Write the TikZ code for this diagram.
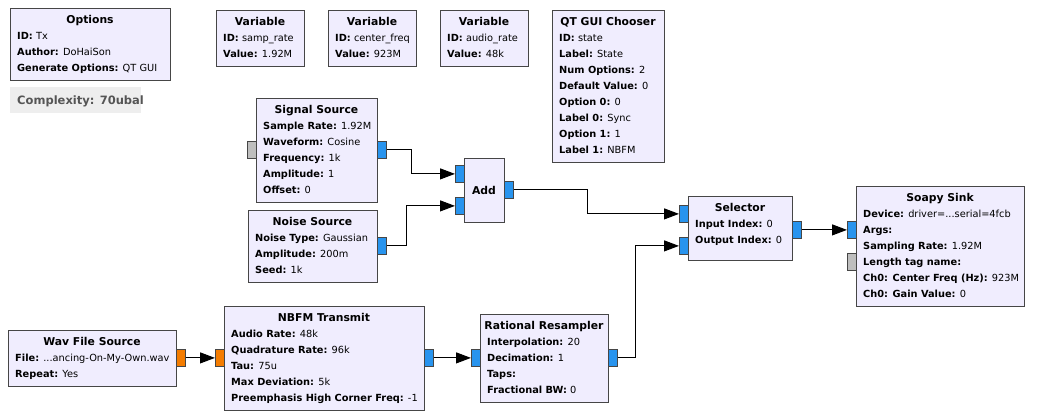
\documentclass[tikz,border=0pt]{standalone}
\usepackage{fontspec}
\setmainfont{DejaVu Sans}
\usetikzlibrary{arrows.meta}
\definecolor{blkfill}{RGB}{240,237,254}
\definecolor{blkdraw}{RGB}{70,70,70}
\definecolor{portblue}{RGB}{40,148,238}
\definecolor{portorange}{RGB}{244,124,0}
\definecolor{portgray}{RGB}{190,190,190}
\definecolor{cplxfill}{RGB}{238,238,238}
\definecolor{cplxtext}{RGB}{85,85,85}
\tikzset{
  blk/.style={draw=blkdraw, fill=blkfill, line width=0.9pt, inner sep=0pt, anchor=north west},
  blktitle/.style={inner sep=0pt, anchor=base, font=\fontsize{10.8}{12}\selectfont\bfseries},
  blkline/.style={inner sep=0pt, anchor=base west, font=\fontsize{9.8}{12}\selectfont},
  prt/.style={draw=blkdraw, line width=0.8pt, inner sep=0pt, minimum width=9pt, minimum height=17pt, anchor=north west},
  conn/.style={draw=black, line width=1pt, -{Triangle[length=15pt,width=11pt]}},
}
\newcommand{\grdots}{.{}.{}.}
\newcommand{\grblock}[7]{%
  \node[blk, minimum width=#4pt, minimum height=#5pt] (#1) at (#2,#3) {};
  \node[blktitle] (#1-t) at ({#2+#4/2},{#3+15}) {#6};
  \foreach \ln [count=\i] in {#7} {
    \node[blkline] (#1-l\i) at ({#2+7},{#3+31+16*(\i-1)}) {\ln};
  }
}
\newcommand{\grport}[4]{%
  \node[prt, fill=#4] (#1) at (#2,#3) {};
}
\begin{document}
\begin{tikzpicture}[x=1pt,y=-1pt]
\useasboundingbox[fill=white] (0,0) rectangle (1039,418);

\grblock{opt}{10}{8}{160}{72}{Options}{{\textbf{ID:} Tx},{\textbf{Author:} DoHaiSon},{\textbf{Generate Options:} QT GUI}}
\node[fill=cplxfill, minimum width=131pt, minimum height=26pt, anchor=north west, inner sep=0pt] (cplx) at (10,87) {};
\node[anchor=base west, inner sep=0pt, text=cplxtext, font=\fontsize{11.5}{14}\selectfont\bfseries] (cplx-t) at (17,104.5) {Complexity: 70ubal};

\grblock{v1}{216}{10}{88}{56}{Variable}{{\textbf{ID:} samp\_rate},{\textbf{Value:} 1.92M}}
\grblock{v2}{328}{10}{88}{56}{Variable}{{\textbf{ID:} center\_freq},{\textbf{Value:} 923M}}
\grblock{v3}{440}{10}{88}{56}{Variable}{{\textbf{ID:} audio\_rate},{\textbf{Value:} 48k}}
\grblock{ch}{552}{10}{112}{152}{QT GUI Chooser}{{\textbf{ID:} state},{\textbf{Label:} State},{\textbf{Num Options:} 2},{\textbf{Default Value:} 0},{\textbf{Option 0:} 0},{\textbf{Label 0:} Sync},{\textbf{Option 1:} 1},{\textbf{Label 1:} NBFM}}

\grblock{ss}{256}{98}{121}{104}{Signal Source}{{\textbf{Sample Rate:} 1.92M},{\textbf{Waveform:} Cosine},{\textbf{Frequency:} 1k},{\textbf{Amplitude:} 1},{\textbf{Offset:} 0}}
\grport{ss-m}{247}{141}{portgray}
\grport{ss-o}{377}{141}{portblue}

\grblock{ns}{248}{210}{129}{72}{Noise Source}{{\textbf{Noise Type:} Gaussian},{\textbf{Amplitude:} 200m},{\textbf{Seed:} 1k}}
\grport{ns-o}{377}{237}{portblue}

\node[blk, minimum width=40pt, minimum height=64pt] (add) at (464,158) {};
\node[blktitle] (add-t) at (484,194) {Add};
\grport{add-i1}{455}{165}{portblue}
\grport{add-i2}{455}{197}{portblue}
\grport{add-o}{504}{181}{portblue}

\grblock{sel}{688}{196}{104}{64}{Selector}{{\textbf{Input Index:} 0},{\textbf{Output Index:} 0}}
\grport{sel-i1}{679}{205}{portblue}
\grport{sel-i2}{679}{237}{portblue}
\grport{sel-o}{792}{221}{portblue}

\grblock{ssk}{856}{186}{168}{120}{Soapy Sink}{{\textbf{Device:} driver=\grdots serial=4fcb},{\textbf{Args:}},{\textbf{Sampling Rate:} 1.92M},{\textbf{Length tag name:}},{\textbf{Ch0: Center Freq (Hz):} 923M},{\textbf{Ch0: Gain Value:} 0}}
\grport{ssk-i}{847}{221}{portblue}
\grport{ssk-m}{847}{253}{portgray}

\grblock{wav}{8}{330}{168}{56}{Wav File Source}{{\textbf{File:} \grdots ancing-On-My-Own.wav},{\textbf{Repeat:} Yes}}
\grport{wav-o}{176}{349}{portorange}

\grblock{nb}{224}{306}{200}{104}{NBFM Transmit}{{\textbf{Audio Rate:} 48k},{\textbf{Quadrature Rate:} 96k},{\textbf{Tau:} 75u},{\textbf{Max Deviation:} 5k},{\textbf{Preemphasis High Corner Freq:} -1}}
\grport{nb-i}{215}{349}{portorange}
\grport{nb-o}{424}{349}{portblue}

\grblock{rr}{480}{314}{128}{88}{Rational Resampler}{{\textbf{Interpolation:} 20},{\textbf{Decimation:} 1},{\textbf{Taps:}},{\textbf{Fractional BW:} 0}}
\grport{rr-i}{471}{349}{portblue}
\grport{rr-o}{608}{349}{portblue}

\draw[conn] (ss-o.east) -- ++(25,0) |- (add-i1.west);
\draw[conn] (ns-o.east) -- ++(20,0) |- (add-i2.west);
\draw[conn] (add-o.east) -- ++(74,0) |- (sel-i1.west);
\draw[conn] (rr-o.east) -- ++(18,0) |- (sel-i2.west);
\draw[conn] (sel-o.east) -- (ssk-i.west);
\draw[conn] (wav-o.east) -- (nb-i.west);
\draw[conn] (nb-o.east) -- (rr-i.west);
\end{tikzpicture}
\end{document}
